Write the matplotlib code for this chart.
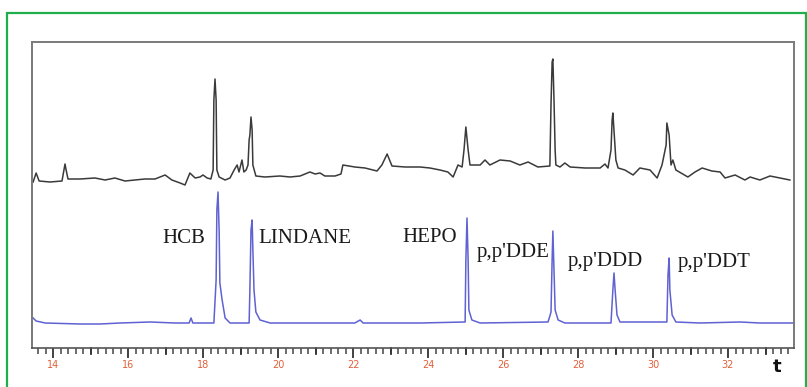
import matplotlib
matplotlib.use("Agg")
import matplotlib.pyplot as plt
from matplotlib.patches import Rectangle
from matplotlib.ticker import MultipleLocator

# ---- data: sample chromatogram (black) ----
sample_t = [13.47, 13.55, 13.63, 13.92, 14.24, 14.29, 14.32, 14.35, 14.40, 14.72, 15.12, 15.39,
            15.65, 15.92, 16.19, 16.45, 16.72, 16.99, 17.17, 17.39, 17.52, 17.65, 17.79, 17.92,
            18.00, 18.11, 18.21, 18.27, 18.29, 18.32, 18.35, 18.37, 18.43, 18.59, 18.72, 18.83,
            18.91, 18.96, 19.04, 19.09, 19.15, 19.20, 19.23, 19.25, 19.28, 19.31, 19.33, 19.41,
            19.65, 20.05, 20.32, 20.59, 20.85, 20.99, 21.12, 21.25, 21.52, 21.68, 21.73, 22.05,
            22.32, 22.64, 22.77, 22.91, 23.04, 23.39, 23.79, 24.05, 24.32, 24.53, 24.67, 24.80,
            24.91, 24.96, 25.01, 25.07, 25.12, 25.39, 25.52, 25.65, 25.92, 26.19, 26.45, 26.67,
            26.93, 27.25, 27.28, 27.31, 27.33, 27.36, 27.39, 27.41, 27.52, 27.65, 27.79, 28.19,
            28.59, 28.72, 28.80, 28.88, 28.91, 28.93, 28.96, 29.01, 29.07, 29.25, 29.47, 29.65,
            29.92, 30.11, 30.24, 30.35, 30.37, 30.43, 30.48, 30.53, 30.61, 30.93, 31.12, 31.31,
            31.57, 31.79, 31.92, 32.19, 32.45, 32.59, 32.85, 33.12, 33.39, 33.65]
sample_resp = [1, 10, 2, 1, 2, 13, 19, 13, 4, 4, 5, 3,
               5, 2, 3, 4, 4, 8, 3, 0, -2, 10, 5, 6,
               8, 5, 4, 13, 83, 104, 83, 13, 6, 3, 5, 13,
               18, 11, 23, 11, 13, 18, 43, 48, 66, 53, 18, 7,
               6, 7, 6, 7, 11, 9, 10, 7, 7, 9, 18, 16,
               15, 12, 18, 29, 17, 16, 16, 15, 13, 11, 6, 18,
               16, 33, 56, 33, 18, 18, 23, 18, 23, 22, 18, 21,
               16, 17, 78, 121, 124, 83, 33, 18, 16, 20, 16, 15,
               15, 19, 15, 33, 63, 70, 53, 23, 15, 13, 8, 15,
               13, 5, 18, 38, 60, 48, 18, 23, 13, 6, 11, 15,
               12, 11, 5, 8, 3, 6, 3, 7, 5, 3]

# ---- data: standard mixture chromatogram (blue) ----
std_t = [13.47, 13.55, 13.79, 14.72, 15.25, 15.79, 16.59, 17.25, 17.63, 17.68, 17.73, 18.29,
         18.35, 18.37, 18.40, 18.43, 18.45, 18.51, 18.59, 18.72, 19.23, 19.25, 19.28, 19.31,
         19.33, 19.36, 19.41, 19.52, 19.79, 20.59, 22.05, 22.19, 22.27, 23.79, 24.99, 25.01,
         25.04, 25.07, 25.09, 25.17, 25.39, 27.20, 27.25, 27.28, 27.31, 27.33, 27.36, 27.39,
         27.47, 27.65, 28.88, 28.93, 28.96, 28.99, 29.04, 29.12, 30.37, 30.40, 30.43, 30.45,
         30.51, 30.61, 31.25, 32.32, 32.85, 33.73]
std_resp = [5, 2, 0, -1, -1, 0, 1, 0, 0, 5, 0, 0,
            43, 113, 131, 93, 40, 23, 5, 0, 0, 33, 93, 103,
            73, 33, 11, 3, 0, 0, 0, 3, 0, 0, 1, 63,
            105, 63, 13, 3, 0, 1, 7, 11, 63, 92, 53, 13,
            3, 0, 0, 33, 50, 33, 8, 1, 1, 48, 65, 33,
            8, 1, 0, 1, 0, 0]

compounds = ["HCB", "LINDANE", "HEPO", "p,p'DDE", "p,p'DDD", "p,p'DDT"]
tick_labels = ["14", "16", "18", "20", "22", "24", "26", "28", "30", "32"]
tick_values = [14, 16, 18, 20, 22, 24, 26, 28, 30, 32]

# ---- figure ----
W, H = 807, 387
fig = plt.figure(figsize=(W / 100, H / 100), dpi=100)
fig.patch.set_facecolor("white")

# green frame
fig.add_artist(Rectangle((7 / W, -0.05), (806 - 7) / W, 1.05 - 13 / H + 0.0,
                         transform=fig.transFigure, fill=False,
                         edgecolor="#1fae4b", linewidth=1.6))

ax = fig.add_axes([32 / W, (H - 348) / H, (794 - 32) / W, (348 - 42) / H])
ax.set_xlim(13.44, 33.76)
ax.set_ylim(0, 306)

black_offset = 165
blue_offset = 25
ax.plot(sample_t, [v + black_offset for v in sample_resp], color="#3a3a3a", lw=1.1)
ax.plot(std_t, [v + blue_offset for v in std_resp], color="#5e62d2", lw=1.1)

# compound labels (left edge, baseline)
label_pos = [(16.91, 105), (19.47, 105), (23.33, 106), (25.31, 91), (27.73, 82), (30.67, 81)]
for name, (lx, ly) in zip(compounds, label_pos):
    ax.text(lx, ly, name, family="Liberation Serif", fontsize=15, color="#1a1a1a",
            ha="left", va="baseline")

# axes styling
for side in ["top", "left", "right"]:
    ax.spines[side].set_color("#7a7a7a")
    ax.spines[side].set_linewidth(1.4)
ax.spines["bottom"].set_color("#555555")
ax.spines["bottom"].set_linewidth(1.2)

ax.set_yticks([])
ax.set_xticks(tick_values)
ax.set_xticklabels(tick_labels)
ax.xaxis.set_minor_locator(MultipleLocator(0.2))
ax.tick_params(axis="x", which="major", direction="out", length=7, width=1.3,
               color="#333333", labelsize=7, labelcolor="#e0603a", pad=2)
ax.tick_params(axis="x", which="minor", direction="out", length=4.5, width=1.1,
               color="#444444")
# unit ticks (odd numbers) also longer
for t in range(15, 34, 2):
    ax.plot([t, t], [0, -6], color="#333333", lw=1.3, clip_on=False,
            transform=ax.get_xaxis_transform() if False else ax.transData)

fig.text(777 / W, 1 - 367 / H, "t", fontsize=13, fontweight="bold", color="#111111",
         ha="center", va="center", family="DejaVu Sans")

fig.savefig("out.png", dpi=100, facecolor="white")
